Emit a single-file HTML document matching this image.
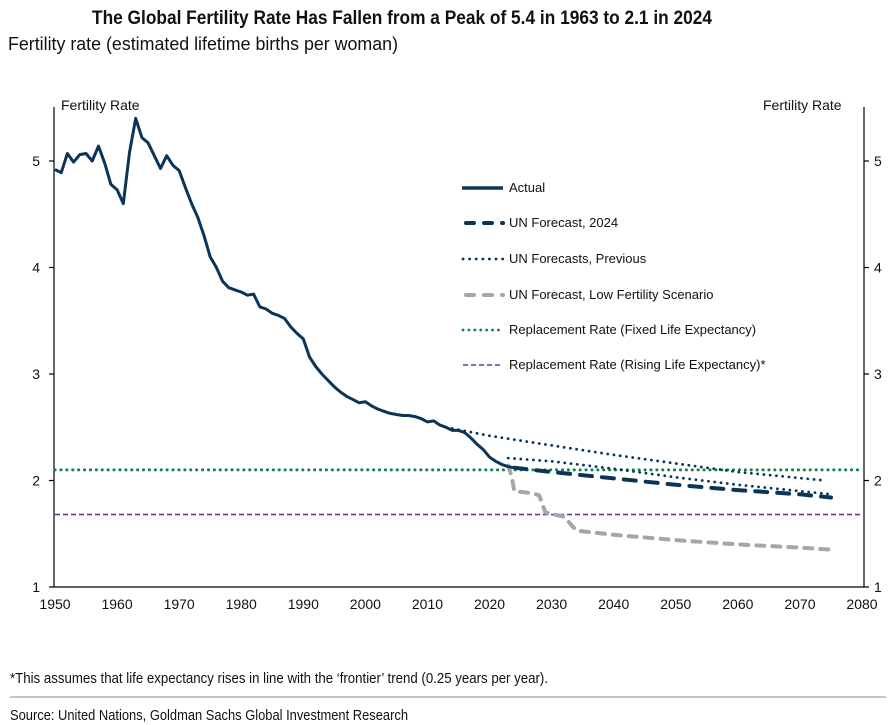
<!DOCTYPE html>
<html><head><meta charset="utf-8"><style>
html,body{margin:0;padding:0;background:#fff;width:896px;height:725px;overflow:hidden}
svg{display:block}
text{font-family:"Liberation Sans",Arial,sans-serif}
.n{font-family:"Liberation Sans Narrow","Liberation Sans",sans-serif}
</style></head><body>
<svg id="s" width="896" height="725" xmlns="http://www.w3.org/2000/svg">
<text class="n" x="92" y="24" font-size="19" font-weight="bold" textLength="620" lengthAdjust="spacingAndGlyphs" fill="#111">The Global Fertility Rate Has Fallen from a Peak of 5.4 in 1963 to 2.1 in 2024</text>
<text class="n" x="8" y="50" font-size="18" textLength="390" lengthAdjust="spacingAndGlyphs" fill="#111">Fertility rate (estimated lifetime births per woman)</text>
<text x="61" y="110" font-size="14" fill="#111">Fertility Rate</text>
<text x="763" y="110" font-size="14" fill="#111">Fertility Rate</text>
<g id="ax" stroke="#000" stroke-width="1.2"></g>
<g id="lab" font-size="14" fill="#111"></g>
<g id="ser"></g>
<g font-size="13" fill="#111">
<line x1="462" y1="188" x2="503" y2="188" stroke="#0b3558" stroke-width="3.5"/>
<text x="509" y="192">Actual</text>
<line x1="466" y1="223" x2="503" y2="223" stroke="#0b3558" stroke-width="4" stroke-dasharray="8 10" stroke-linecap="round"/>
<text x="509" y="227">UN Forecast, 2024</text>
<line x1="463" y1="259" x2="503" y2="259" stroke="#0b3558" stroke-width="2.8" stroke-dasharray="0.1 6.5" stroke-linecap="round"/>
<text x="509" y="263">UN Forecasts, Previous</text>
<line x1="466" y1="295" x2="503" y2="295" stroke="#a6a6a6" stroke-width="4" stroke-dasharray="8 10" stroke-linecap="round"/>
<text x="509" y="299">UN Forecast, Low Fertility Scenario</text>
<line x1="463" y1="330" x2="503" y2="330" stroke="#12804a" stroke-width="2.8" stroke-dasharray="0.1 5.8" stroke-linecap="round"/>
<text x="509" y="334">Replacement Rate (Fixed Life Expectancy)</text>
<line x1="463" y1="365" x2="503" y2="365" stroke="#7030a0" stroke-width="1.6" stroke-dasharray="5 3"/>
<text x="509" y="369">Replacement Rate (Rising Life Expectancy)*</text>
</g>
<text class="n" x="10" y="683" font-size="15" textLength="538" lengthAdjust="spacingAndGlyphs" fill="#111">*This assumes that life expectancy rises in line with the ‘frontier’ trend (0.25 years per year).</text>
<line x1="10" y1="697" x2="886" y2="697" stroke="#888" stroke-width="1"/>
<text class="n" x="10" y="720" font-size="15" textLength="398" lengthAdjust="spacingAndGlyphs" fill="#111">Source: United Nations, Goldman Sachs Global Investment Research</text>
</svg>
<script>
var NS="http://www.w3.org/2000/svg";
function X(y){return 55+(y-1950)*6.2077;}
function Y(v){return 587-(v-1)*106.5;}
function el(p,t,a,txt){var e=document.createElementNS(NS,t);for(var k in a)e.setAttribute(k,a[k]);if(txt)e.textContent=txt;document.getElementById(p).appendChild(e);}
var L=54,R=864;
el("ax","line",{x1:L,y1:107,x2:L,y2:587});
el("ax","line",{x1:R,y1:107,x2:R,y2:587});
el("ax","line",{x1:L,y1:587,x2:R,y2:587});
for(var v=1;v<=5;v++){var y=Y(v);
el("ax","line",{x1:L-5,y1:y,x2:L,y2:y});el("ax","line",{x1:R,y1:y,x2:R+5,y2:y});
el("lab","text",{x:L-14,y:y+5,"text-anchor":"end"},""+v);
el("lab","text",{x:R+10,y:y+5},""+v);}
for(var yr=1950;yr<=2080;yr+=10){el("lab","text",{x:X(yr),y:609,"text-anchor":"middle"},""+yr);}
var act=[4.92,4.89,5.07,4.99,5.06,5.07,5.0,5.14,4.98,4.78,4.73,4.6,5.08,5.4,5.22,5.17,5.05,4.93,5.05,4.96,4.91,4.75,4.6,4.47,4.3,4.1,4.0,3.87,3.81,3.79,3.77,3.74,3.75,3.63,3.61,3.57,3.55,3.52,3.44,3.38,3.33,3.16,3.07,3.0,2.94,2.88,2.83,2.79,2.76,2.73,2.74,2.7,2.67,2.65,2.63,2.62,2.61,2.61,2.6,2.58,2.55,2.56,2.52,2.5,2.47,2.47,2.45,2.4,2.34,2.29,2.22,2.18,2.15,2.13,2.12];
function path(pts){return pts.map(function(p,i){return (i?"L":"M")+X(p[0]).toFixed(1)+" "+Y(p[1]).toFixed(1);}).join(" ");}
function line(pts,a){a.d=path(pts);a.fill="none";el("ser","path",a);}
line([[1950,2.1],[2080,2.1]],{stroke:"#12804a","stroke-width":3,"stroke-dasharray":"0.1 5.8","stroke-linecap":"round"});
line([[1950,1.68],[2080,1.68]],{stroke:"#7030a0","stroke-width":1.6,"stroke-dasharray":"5 3"});
line([[2023,2.14],[2023.5,2.05],[2024,1.9],[2027,1.88],[2028,1.86],[2029,1.7],[2032,1.66],[2034,1.53],[2040,1.49],[2050,1.44],[2060,1.40],[2070,1.37],[2075,1.35]],{stroke:"#a6a6a6","stroke-width":4,"stroke-dasharray":"8 8","stroke-linecap":"round","stroke-linejoin":"round"});
line([[2013,2.5],[2020,2.42],[2030,2.33],[2040,2.24],[2050,2.16],[2060,2.08],[2074,2.0]],{stroke:"#0b3558","stroke-width":2.8,"stroke-dasharray":"0.1 6.2","stroke-linecap":"round"});
line([[2023,2.21],[2030,2.18],[2040,2.11],[2050,2.03],[2060,1.96],[2070,1.90],[2075,1.87]],{stroke:"#0b3558","stroke-width":2.8,"stroke-dasharray":"0.1 6.2","stroke-linecap":"round"});
line([[2024,2.12],[2030,2.08],[2040,2.02],[2050,1.96],[2060,1.91],[2070,1.87],[2075,1.84]],{stroke:"#0b3558","stroke-width":4,"stroke-dasharray":"12 10","stroke-linecap":"round"});
line(act.map(function(v,i){return [1950+i,v];}),{stroke:"#0b3558","stroke-width":3,"stroke-linejoin":"round"});
</script>
</body></html>
